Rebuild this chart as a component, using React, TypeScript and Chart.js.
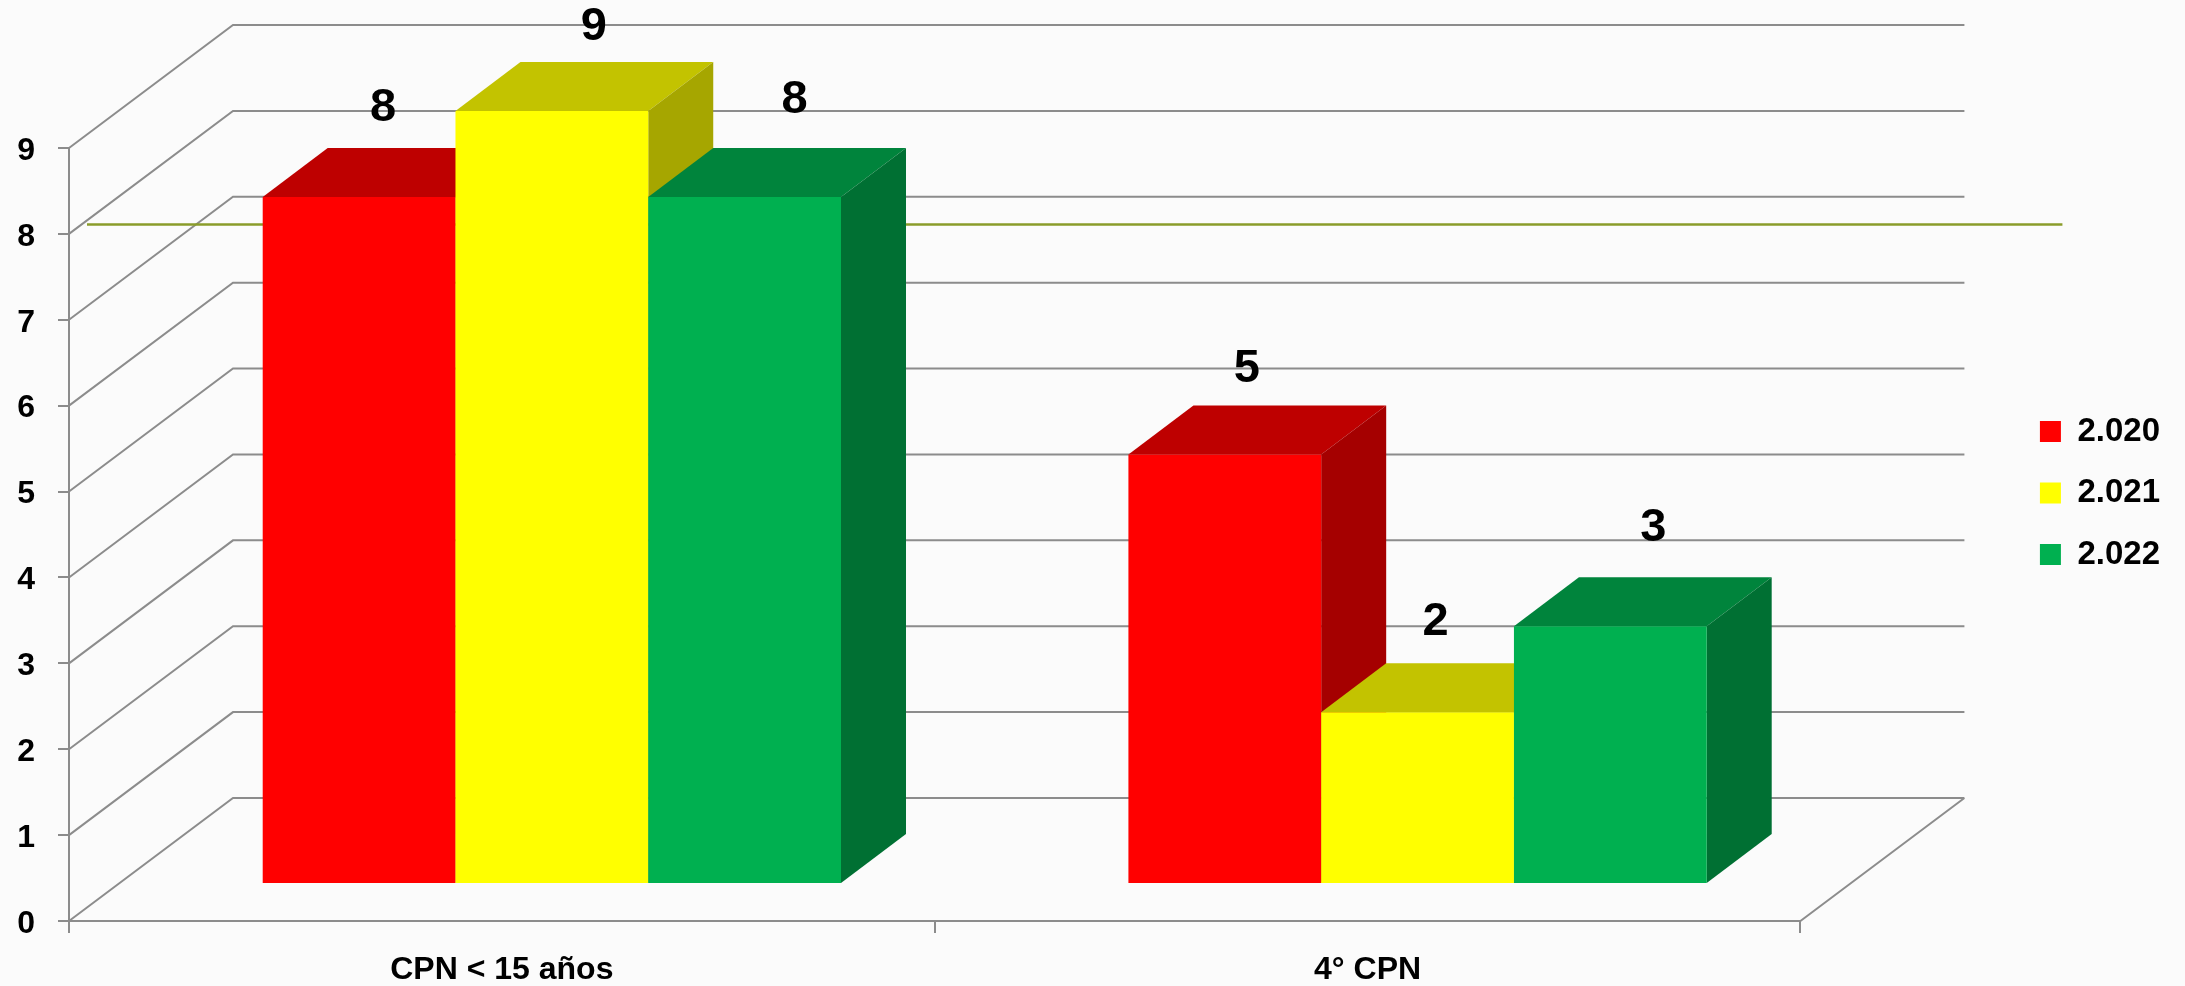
import React, { useEffect, useRef } from "react";
import { Chart, registerables } from "chart.js";

Chart.register(...registerables);

const categories = ["CPN < 15 años", "4° CPN"];
const seriesNames = ["2.020", "2.021", "2.022"];
const values2020 = [8, 5];
const values2021 = [9, 2];
const values2022 = [8, 3];
const yTicks = [0, 1, 2, 3, 4, 5, 6, 7, 8, 9];
const targetValue = 8.11;

const FONT = "'Liberation Sans', Arial, sans-serif";
const GRID = "#8c8c8c";
const BG = "#fbfbfb";
const OLIVE = "#8a9c2a";
const FRONT = ["#ff0000", "#ffff00", "#00b050"];
const TOP = ["#be0000", "#c3c300", "#00843c"];
const SIDE = ["#a50000", "#a6a600", "#007033"];

// 3D projection, in pixels
const WALL = { x: 164, y: -123 };
const BAR_SHIFT = { x: 50, y: -37 };
const BAR_DEPTH = { x: 65, y: -49 };
const TARGET_EXTENT = { left: 18, right: 262 };
// Manually placed data labels in the reference: offsets from the top centre of each front face
const LABEL_NUDGE = [
  [{ x: 24, y: -89 }, { x: 22, y: -86 }],
  [{ x: 42, y: -84 }, { x: 18, y: -90 }],
  [{ x: 50, y: -97 }, { x: 43, y: -98 }],
];

const poly = (ctx: CanvasRenderingContext2D, fill: string, pts: number[][]) => {
  ctx.beginPath();
  pts.forEach((p, i) => (i ? ctx.lineTo(p[0], p[1]) : ctx.moveTo(p[0], p[1])));
  ctx.closePath();
  ctx.fillStyle = fill;
  ctx.fill();
};

const bars3d = {
  id: "bars3d",
  beforeDatasetsDraw(chart: any) {
    const { ctx, scales } = chart;
    const x = scales.x;
    const y = scales.y;
    ctx.save();
    ctx.strokeStyle = GRID;
    ctx.lineWidth = 2;
    ctx.beginPath();
    yTicks.forEach((v) => {
      const py = y.getPixelForValue(v);
      ctx.moveTo(x.left, py);
      ctx.lineTo(x.left + WALL.x, py + WALL.y);
      ctx.lineTo(x.right + WALL.x, py + WALL.y);
    });
    const y0 = y.getPixelForValue(0);
    ctx.moveTo(x.right, y0);
    ctx.lineTo(x.right + WALL.x, y0 + WALL.y);
    ctx.stroke();
    ctx.strokeStyle = OLIVE;
    ctx.lineWidth = 2.5;
    ctx.beginPath();
    const ty = y.getPixelForValue(targetValue);
    ctx.moveTo(x.left + TARGET_EXTENT.left, ty);
    ctx.lineTo(x.right + TARGET_EXTENT.right, ty);
    ctx.stroke();
    ctx.restore();
  },
  // Painter's order: the boxes are drawn left to right here, so the native pass is skipped.
  beforeDatasetDraw() {
    return false;
  },
  afterDatasetsDraw(chart: any) {
    const ctx = chart.ctx;
    ctx.save();
    ctx.translate(BAR_SHIFT.x, BAR_SHIFT.y);
    chart.data.datasets.forEach((_: any, i: number) => {
      chart.getDatasetMeta(i).data.forEach((el: any) => {
        const l = el.x - el.width / 2;
        const r = el.x + el.width / 2;
        const d = BAR_DEPTH;
        poly(ctx, TOP[i], [[l, el.y], [r, el.y], [r + d.x, el.y + d.y], [l + d.x, el.y + d.y]]);
        poly(ctx, SIDE[i], [[r, el.y], [r + d.x, el.y + d.y], [r + d.x, el.base + d.y], [r, el.base]]);
        el.draw(ctx);
      });
    });
    ctx.restore();

    ctx.save();
    ctx.fillStyle = "#000";
    ctx.font = `bold 47px ${FONT}`;
    ctx.textAlign = "center";
    ctx.textBaseline = "middle";
    chart.data.datasets.forEach((ds: any, i: number) => {
      chart.getDatasetMeta(i).data.forEach((el: any, j: number) => {
        const n = LABEL_NUDGE[i][j];
        ctx.fillText(String(ds.data[j]), el.x + BAR_SHIFT.x + n.x, el.y + BAR_SHIFT.y + n.y);
      });
    });
    ctx.restore();
  },
};

const spacer = (axis: "x" | "y", position: string, size: number) => ({
  type: "linear",
  axis,
  position,
  display: true,
  ticks: { display: false },
  grid: { display: false },
  border: { display: false },
  afterFit(s: any) {
    if (axis === "x") s.height = size;
    else s.width = size;
  },
});

export default function App() {
  const ref = useRef<HTMLCanvasElement>(null);
  useEffect(() => {
    document.body.style.margin = "0";
    document.body.style.background = BG;
    const chart = new Chart(ref.current as HTMLCanvasElement, {
      type: "bar",
      data: {
        labels: categories,
        datasets: [values2020, values2021, values2022].map((data, i) => ({
          label: seriesNames[i],
          data,
          backgroundColor: FRONT[i],
          borderWidth: 0,
          clip: false as any,
          categoryPercentage: 0.668,
          barPercentage: 1,
        })),
      },
      options: {
        responsive: false,
        animation: false,
        devicePixelRatio: 1,
        layout: { padding: { left: 0, right: 15, top: 0, bottom: 0 } },
        plugins: {
          tooltip: { enabled: false },
          title: { display: false },
          legend: {
            position: "right",
            labels: {
              boxWidth: 21,
              boxHeight: 21,
              padding: 28.5,
              color: "#000",
              font: { family: FONT, size: 33, weight: "bold" },
            } as any,
          } as any,
        },
        scales: {
          x: {
            type: "category",
            offset: true,
            afterFit(s: any) {
              s.height = 65;
            },
            grid: { drawOnChartArea: false, drawTicks: true, tickLength: 12, color: GRID, lineWidth: 2 },
            border: { display: true, color: GRID, width: 2 },
            ticks: { color: "#000", padding: 18, maxRotation: 0, font: { family: FONT, size: 32, weight: "bold" } },
          },
          y: {
            min: 0,
            max: 9,
            afterFit(s: any) {
              s.width = 69;
            },
            afterBuildTicks(s: any) {
              s.ticks = yTicks.map((value) => ({ value }));
            },
            grid: { drawOnChartArea: false, drawTicks: true, tickLength: 11, color: GRID, lineWidth: 2 },
            border: { display: true, color: GRID, width: 2 },
            ticks: { color: "#000", padding: 23, labelOffset: 3, font: { family: FONT, size: 32, weight: "bold" } },
          },
          spacerTop: spacer("x", "top", 148),
          spacerRight: spacer("y", "right", 211),
        } as any,
      },
      plugins: [bars3d as any],
    });
    return () => chart.destroy();
  }, []);
  return <canvas ref={ref} width={2185} height={986} style={{ display: "block" }} />;
}
